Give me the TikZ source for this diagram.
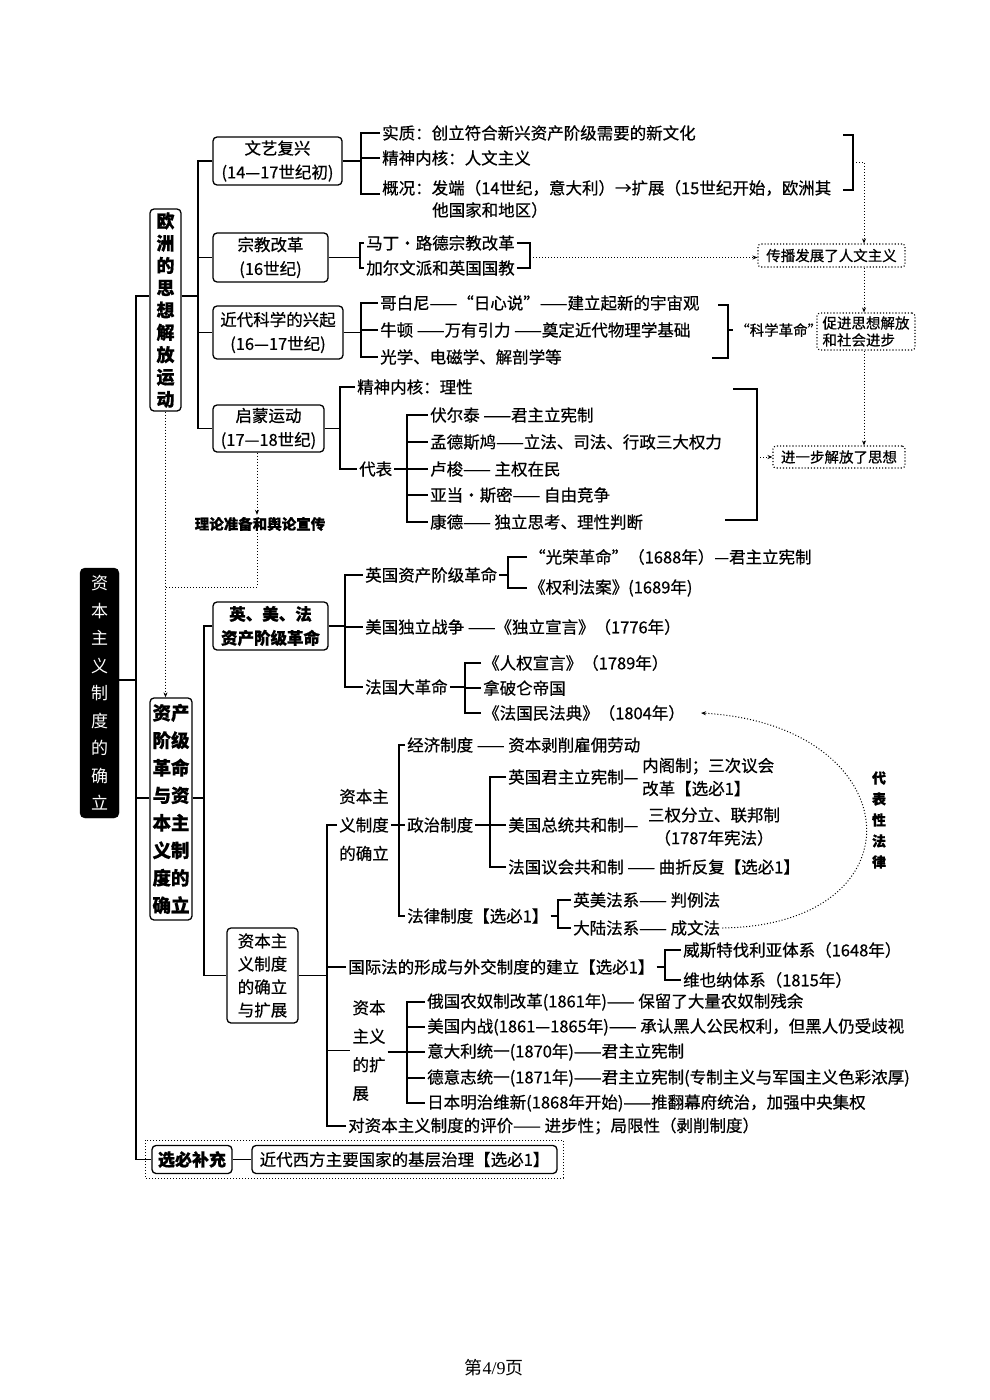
\documentclass[tikz,border=0pt]{standalone}
\usepackage{fontspec}
\setmainfont{Noto Sans CJK SC}[FakeBold=0.6]
\newfontfamily\latinserif{Liberation Serif}
\newfontfamily\rootfont{Noto Sans CJK SC}
\usetikzlibrary{arrows.meta}
\begin{document}
\begin{tikzpicture}[x=1pt,y=-1pt]
\tikzset{
  fs/.style={font=\fontsize{16.5}{19}\selectfont},
  txt/.style={anchor=west, inner sep=2pt, fs},
  box/.style={draw, line width=1.3pt, rounded corners=4pt, align=center, inner sep=0pt, font=\fontsize{16.5}{24}\selectfont},
  vbox/.style={draw, line width=1.3pt, rounded corners=4pt, align=center, inner sep=0pt, font=\bfseries\fontsize{18}{22.3}\selectfont},
  dbox/.style={draw, dotted, line width=1.1pt, rounded corners=3pt, inner sep=0pt, font=\fontsize{14.5}{17}\selectfont},
  tree/.style={line width=1.4pt},
  dotln/.style={dotted, line width=1pt},
  dotarr/.style={dotted, line width=1pt, -{Stealth[length=5pt,width=4pt]}},
}
\useasboundingbox[fill=white] (0,0) rectangle (990,1400);

% ---------- root and level-1 ----------
\node[draw=black, fill=black, text=white, rounded corners=5pt, minimum width=39pt, minimum height=250pt, inner sep=0pt, align=center, font=\rootfont\fontsize{17}{27.5}\selectfont] (root) at (99.5,693) {资\\本\\主\\义\\制\\度\\的\\确\\立};
\node[vbox, minimum width=31pt, minimum height=202pt] (ouz) at (165.5,310) {欧\\洲\\的\\思\\想\\解\\放\\运\\动};
\node[vbox, minimum width=42pt, minimum height=222pt, font=\bfseries\fontsize{18.5}{27.5}\selectfont] (zc) at (171,809) {资产\\阶级\\革命\\与资\\本主\\义制\\度的\\确立};
\node[vbox, minimum width=80pt, minimum height=28pt, font=\bfseries\fontsize{17}{20}\selectfont] (xb) at (192,1159.5) {选必补充};
\node[box, minimum width=305pt, minimum height=28pt, font=\fontsize{16.5}{19}\selectfont] (xb2) at (404.5,1159.5) {近代西方主要国家的基层治理【选必1】};
\draw[dotln] (145,1140) rectangle (563,1178);
\draw[tree] (xb.east) -- (xb2.west);

\coordinate (tt) at (136,296);
\coordinate (tb) at (136,1159.5);
\coordinate (rj) at (136,680);
\coordinate (t2) at (136,798);
\draw[tree] (tt -| ouz.west) -- (tt) -- (tb) -- (xb.west);
\draw[tree] (rj -| root.east) -- (rj);
\draw[tree] (t2) -- (t2 -| zc.west);

% ---------- branch 1 ----------
\node[box, minimum width=129pt, minimum height=48pt] (wy) at (277.5,161) {文艺复兴\\(14—17世纪初)};
\node[box, minimum width=115pt, minimum height=49pt] (zj) at (270.5,257.5) {宗教改革\\(16世纪)};
\node[box, minimum width=130pt, minimum height=53pt] (kx) at (278,332.5) {近代科学的兴起\\(16—17世纪)};
\node[box, minimum width=111pt, minimum height=47pt] (qm) at (268.5,428.5) {启蒙运动\\(17—18世纪)};
\coordinate (b1) at (198,296);
\draw[tree] (b1 -| ouz.east) -- (b1);
\draw[tree] (wy.west) -| (b1) |- (qm.west);
\draw[tree] (b1 |- zj.west) -- (zj.west);
\draw[tree] (b1 |- kx.west) -- (kx.west);

% 文艺复兴
\node[txt] (w1) at (380,133) {实质：创立符合新兴资产阶级需要的新文化};
\node[txt] (w2) at (380,158) {精神内核：人文主义};
\node[txt] (w3) at (380,188) {概况：发端（14世纪，意大利）→扩展（15世纪开始，欧洲其};
\node[txt] (w4) at (430,210) {他国家和地区）};
\coordinate (jw) at (361,161);
\draw[tree] (wy.east) -- (jw);
\draw[tree] (w1.west) -| (jw) |- ([yshift=-6pt]w3.west);
\draw[tree] (jw |- w2.west) -- (w2.west);
\coordinate (rw1) at (843,135);
\coordinate (rw2) at (843,190);
\coordinate (rw) at (853,162);
\draw[tree] (rw1) -| (rw) |- (rw2);

% dotted boxes
\node[dbox, minimum width=147pt, minimum height=23pt] (cb) at (831.5,255.5) {传播发展了人文主义};
\node[dbox, minimum width=98pt, minimum height=37pt, align=left] (cj) at (866,331.5) {促进思想解放\\和社会进步};
\node[dbox, minimum width=132pt, minimum height=22pt] (jy) at (839,457) {进一步解放了思想};
\coordinate (vx) at (864,162);
\draw[dotarr] (rw) -- (vx) -- (vx |- cb.north);
\draw[dotarr] (cb.south -| vx) -- (cj.north -| vx);
\draw[dotarr] (cj.south -| vx) -- (jy.north -| vx);

% 宗教改革
\node[txt] (z1) at (364,243) {马丁·路德宗教改革};
\node[txt] (z2) at (364,268) {加尔文派和英国国教};
\coordinate (jz) at (360,257.5);
\draw[tree] (zj.east) -- (jz);
\draw[tree] (z1.west) -| (jz) |- (z2.west);
\coordinate (rz) at (530,257.5);
\draw[tree] (z1.east) -| (rz) |- (z2.east);
\draw[dotarr] (rz) -- (rz -| cb.west);

% 近代科学
\node[txt] (k1) at (378,303) {哥白尼——“日心说”——建立起新的宇宙观};
\node[txt] (k2) at (378,330) {牛顿 ——万有引力 ——奠定近代物理学基础};
\node[txt] (k3) at (378,357) {光学、电磁学、解剖学等};
\coordinate (jk) at (361,332.5);
\draw[tree] (kx.east) -- (jk);
\draw[tree] (k1.west) -| (jk) |- (k3.west);
\draw[tree] (jk |- k2.west) -- (k2.west);
\coordinate (rk1) at (718,305);
\coordinate (rk2) at (712,358);
\coordinate (rk) at (728,330);
\draw[tree] (rk1) -| (rk) |- (rk2);
\node[txt, font=\fontsize{14.5}{17}\selectfont] (kr) at (733,330) {“科学革命”};
\draw[tree] (rk) -- (kr.west);

% 启蒙运动
\node[txt] (q1) at (355,387) {精神内核：理性};
\node[txt] (q2) at (357,469) {代表};
\coordinate (jq) at (340,428.5);
\draw[tree] (qm.east) -- (jq);
\draw[tree] (q1.west) -| (jq) |- (q2.west);
\node[txt] (qa) at (428,415) {伏尔泰 ——君主立宪制};
\node[txt] (qb) at (428,442) {孟德斯鸠——立法、司法、行政三大权力};
\node[txt] (qc) at (428,469) {卢梭—— 主权在民};
\node[txt] (qd) at (428,495) {亚当·斯密—— 自由竞争};
\node[txt] (qe) at (428,522) {康德—— 独立思考、理性判断};
\coordinate (jq2) at (407,469);
\draw[tree] (qa.west) -| (jq2) |- (qe.west);
\draw[tree] (jq2 |- qb.west) -- (qb.west);
\draw[tree] (q2.east) -- (qc.west);
\draw[tree] (jq2 |- qd.west) -- (qd.west);
\coordinate (rq1) at (733,389);
\coordinate (rq2) at (725,520);
\coordinate (rq) at (757,457);
\draw[tree] (rq1) -| (rq) |- (rq2);
\draw[dotarr] (rq) -- (jy.west);

% 理论准备
\node[inner sep=2pt, font=\bfseries\fontsize{14.5}{16}\selectfont] (ll) at (260,524) {理论准备和舆论宣传};
\coordinate (dx) at (257,587);
\draw[dotarr] (qm.south -| dx) -- (ll.north -| dx);
\draw[dotln] (ll.south -| dx) -- (dx) -- (dx -| ouz.south);
\draw[dotarr] (ouz.south) -- (ouz.south |- zc.north);

% ---------- branch 2 ----------
\node[box, minimum width=115pt, minimum height=48pt, font=\bfseries\fontsize{16.5}{24}\selectfont] (ymf) at (270.5,626) {英、美、法\\资产阶级革命};
\node[box, minimum width=71pt, minimum height=95pt, font=\fontsize{16.5}{23}\selectfont] (kz) at (262.5,975.5) {资本主\\义制度\\的确立\\与扩展};
\coordinate (b2) at (204,798);
\draw[tree] (b2 -| zc.east) -- (b2);
\draw[tree] (ymf.west) -| (b2) |- (kz.west);

% 英美法
\node[txt] (ya) at (363,575) {英国资产阶级革命};
\node[txt] (yb) at (363,627) {美国独立战争 ——《独立宣言》（1776年）};
\node[txt] (yc) at (363,687) {法国大革命};
\coordinate (jy3) at (345,626);
\draw[tree] (ymf.east) -- (jy3);
\draw[tree] (ya.west) -| (jy3) |- (yc.west);
\draw[tree] (jy3 |- yb.west) -- (yb.west);
\node[txt] (ya1) at (527,557) {“光荣革命”（1688年）—君主立宪制};
\node[txt] (ya2) at (527,588) {《权利法案》(1689年)};
\coordinate (jya) at (508,575);
\draw[tree] (ya.east) -- (jya);
\draw[tree] (ya1.west) -| (jya) |- (ya2.west);
\node[txt] (yc1) at (481,663) {《人权宣言》（1789年）};
\node[txt] (yc2) at (481,688) {拿破仑帝国};
\node[txt] (yc3) at (481,713) {《法国民法典》（1804年）};
\coordinate (jyc) at (465,687);
\draw[tree] (yc.east) -- (jyc);
\draw[tree] (yc1.west) -| (jyc) |- (yc3.west);
\draw[tree] (jyc |- yc2.west) -- (yc2.west);

% 资本主义制度的确立与扩展
\node[align=center, inner sep=2pt, font=\fontsize{16.5}{28.5}\selectfont] (ka) at (364,825) {资本主\\义制度\\的确立};
\node[txt] (kb) at (346,967) {国际法的形成与外交制度的建立【选必1】};
\node[align=left, inner sep=2pt, font=\fontsize{16.5}{28.5}\selectfont] (kc) at (369,1050.5) {资本\\主义\\的扩\\展};
\node[txt] (kd) at (346,1126) {对资本主义制度的评价—— 进步性；局限性（剥削制度）};
\coordinate (j5) at (327,975.5);
\draw[tree] (kz.east) -- (j5);
\draw[tree] (ka.west) -| (j5) |- (kd.west);
\draw[tree] (j5 |- kb.west) -- (kb.west);
\draw[tree] (j5 |- kc.west) -- (kc.west);

% 制度
\node[txt] (ka1) at (405,745) {经济制度 —— 资本剥削雇佣劳动};
\node[txt] (ka2) at (405,825) {政治制度};
\node[txt] (ka3) at (405,916) {法律制度【选必1】};
\coordinate (jka) at (399,825);
\draw[tree] (ka.east) -- (jka);
\draw[tree] (ka1.west) -| (jka) |- (ka3.west);
\draw[tree] (jka |- ka2.west) -- (ka2.west);

\node[txt] (p1) at (506,777) {英国君主立宪制—};
\node[txt] (p2) at (506,825) {美国总统共和制—};
\node[txt] (p3) at (506,867) {法国议会共和制 —— 曲折反复【选必1】};
\coordinate (jp) at (490,825);
\draw[tree] (ka2.east) -- (jp);
\draw[tree] (p1.west) -| (jp) |- (p3.west);
\draw[tree] (jp |- p2.west) -- (p2.west);
\node[anchor=west, align=left, inner sep=2pt, font=\fontsize{16.5}{23}\selectfont] (p1r) at (640,777) {内阁制；三次议会\\改革【选必1】};
\node[align=center, inner sep=2pt, font=\fontsize{16.5}{23}\selectfont] (p2r) at (714,826.5) {三权分立、联邦制\\（1787年宪法）};

\node[txt] (l1) at (571,900) {英美法系—— 判例法};
\node[txt] (l2) at (571,928) {大陆法系—— 成文法};
\coordinate (jl) at (558,916);
\draw[tree] (ka3.east) -- (jl);
\draw[tree] (l1.west) -| (jl) |- (l2.west);

% 国际法
\node[txt] (i1) at (681,950) {威斯特伐利亚体系（1648年）};
\node[txt] (i2) at (681,980) {维也纳体系（1815年）};
\coordinate (jb) at (665,967);
\draw[tree] (kb.east) -- (jb);
\draw[tree] (i1.west) -| (jb) |- (i2.west);

% 扩展
\node[txt] (e1) at (425,1002) {俄国农奴制改革(1861年)—— 保留了大量农奴制残余};
\node[txt] (e2) at (425,1027) {美国内战(1861—1865年)—— 承认黑人公民权利，但黑人仍受歧视};
\node[txt] (e3) at (425,1052) {意大利统一(1870年)——君主立宪制};
\node[txt] (e4) at (425,1078) {德意志统一(1871年)——君主立宪制(专制主义与军国主义色彩浓厚)};
\node[txt] (e5) at (425,1103) {日本明治维新(1868年开始)——推翻幕府统治，加强中央集权};
\coordinate (je) at (407,1052);
\draw[tree] (kc.east |- je) -- (je);
\draw[tree] (e1.west) -| (je) |- (e5.west);
\draw[tree] (je |- e2.west) -- (e2.west);
\draw[tree] (je |- e3.west) -- (e3.west);
\draw[tree] (je |- e4.west) -- (e4.west);

% 代表性法律
\draw[dotarr] (l2.east) .. controls (925,925) and (910,725) .. ([xshift=14pt]yc3.east);
\node[align=center, inner sep=0pt, font=\bfseries\fontsize{14}{21}\selectfont] (dbx) at (879,820) {代\\表\\性\\法\\律};

% footer
\node[inner sep=0pt, font=\rootfont\fontsize{18}{20}\selectfont] (ft) at (494,1368) {第{\latinserif 4/9}页};
\end{tikzpicture}
\end{document}
